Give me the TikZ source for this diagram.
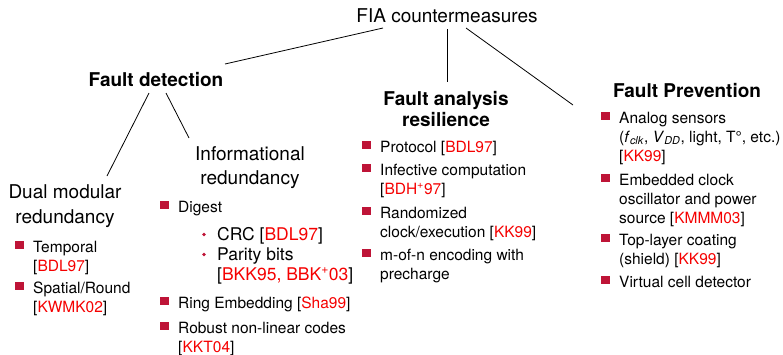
\documentclass[tikz,border=0pt]{standalone}
\usepackage{fontspec}
\setmainfont{TeX Gyre Heros}
\usetikzlibrary{calc}

\definecolor{bulletred}{RGB}{190,20,55}
\definecolor{citered}{RGB}{245,0,0}

% citation in red between black brackets
\newcommand{\rf}[1]{[\textcolor{citered}{#1}]}
% lines stacked with the first line on the baseline
\newcommand{\lines}[1]{\begin{tabular}[t]{@{}l@{}}#1\end{tabular}}
% square bullet item: name, x of text, baseline (pixels from top), text
\newcommand{\sqitem}[4]{%
  \node[sqb] (#1b) at ({#2-13.5},{-#3+7}) {};
  \node[itm] (#1) at (#2,-#3) {\lines{#4}};}
% round sub-bullet item
\newcommand{\dotitem}[4]{%
  \node[dotb] (#1b) at ({#2-13},{-#3+5.5}) {};
  \node[subitm] (#1) at (#2,-#3) {\lines{#4}};}

\begin{document}
\begin{tikzpicture}[x=1pt,y=1pt,
  hdr/.style={inner sep=0pt, anchor=base, font=\fontsize{19}{23}\selectfont},
  bhdr/.style={inner sep=0pt, anchor=base, font=\fontsize{19}{21}\selectfont\bfseries},
  itm/.style={inner sep=0pt, anchor=base west,
              font=\fontsize{15.5}{19}\selectfont},
  subitm/.style={itm, font=\fontsize{17.5}{20}\selectfont},
  sqb/.style={fill=bulletred, minimum size=8.5pt, inner sep=0pt},
  dotb/.style={circle, fill=bulletred, minimum size=3.6pt, inner sep=0pt},
  link/.style={line width=0.8pt}]
\useasboundingbox (0,0) rectangle (783,-354);

% tree headings
\node[hdr]  (root) at (447,-22)  {FIA countermeasures};
\node[bhdr] (fd)   at (156,-86)  {Fault detection};
\node[bhdr] (fa)   at (446,-105) {Fault analysis};
\node[bhdr] (fa2)  at (446,-126) {resilience};
\node[bhdr] (fp)   at (687,-97)  {Fault Prevention};
\node[hdr]  (dm)   at (65,-198)  {Dual modular};
\node[hdr]  (dm2)  at (65,-223)  {redundancy};
\node[hdr]  (ir)   at (250,-160) {Informational};
\node[hdr]  (ir2)  at (250,-184) {redundancy};

% connectors
\draw[link] ([shift={(-64,-6)}]root.base) -- ([shift={(69,22)}]fd.base);
\draw[link] ([yshift=-7]root.base) -- ([shift={(1,23)}]fa.base);
\draw[link] ([shift={(19,-6)}]root.base) -- ([shift={(-114,-8)}]fp.base);
\draw[link] ([shift={(-7,-7)}]fd.base) -- ([shift={(42,22)}]dm.base);
\draw[link] ([shift={(10,-7)}]fd.base) -- ([shift={(-61,22)}]ir.base);

% dual modular redundancy
\sqitem{tmp}{33}{252}{Temporal\\\rf{BDL97}}
\sqitem{spa}{33}{293}{Spatial/Round\\\rf{KWMK02}}

% informational redundancy
\sqitem{dig}{178}{212}{Digest}
\dotitem{crc}{217}{240}{CRC \rf{BDL97}}
\dotitem{par}{217}{260}{Parity bits\\\rf{BKK95, BBK\textsuperscript{+}03}}
\sqitem{rng}{178}{308}{Ring Embedding \rf{Sha99}}
\sqitem{rob}{178}{333}{Robust non-linear codes\\\rf{KKT04}}

% fault analysis resilience
\sqitem{pro}{380}{152}{Protocol \rf{BDL97}}
\sqitem{inf}{380}{175}{Infective computation\\\rf{BDH\textsuperscript{+}97}}
\sqitem{rnd}{380}{218}{Randomized\\clock/execution \rf{KK99}}
\sqitem{mon}{380}{260}{m-of-n encoding with\\precharge}

% fault prevention
\sqitem{ana}{619}{123}{Analog sensors\\(\textit{f}\textsubscript{\textit{clk}}, \textit{V}\textsubscript{\textit{DD}}, light, T°, etc.)\\\rf{KK99}}
\sqitem{emb}{619}{185}{Embedded clock\\oscillator and power\\source \rf{KMMM03}}
\sqitem{top}{619}{245}{Top-layer coating\\(shield) \rf{KK99}}
\sqitem{vcd}{619}{287}{Virtual cell detector}
\end{tikzpicture}
\end{document}
